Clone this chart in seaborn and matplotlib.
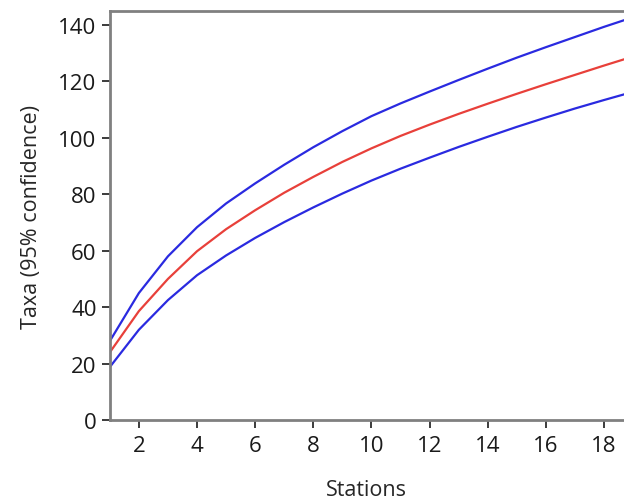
import numpy as np
import pandas as pd
import matplotlib
matplotlib.use("Agg")
import matplotlib.pyplot as plt
import seaborn as sns

# rarefaction curve: stations vs expected taxa with 95% bounds
stations = list(range(1, 20))
taxa_upper = [28, 45, 58, 68.3, 76.7, 83.8, 90.4, 96.6, 102.3, 107.6, 112.1, 116.3,
              120.4, 124.4, 128.3, 132.0, 135.6, 139.2, 142.6]
taxa_mean = [24, 38.6, 50, 59.8, 67.6, 74.3, 80.5, 86.1, 91.4, 96.2, 100.6, 104.6,
             108.4, 112.0, 115.5, 118.9, 122.2, 125.5, 128.7]
taxa_lower = [18.8, 32, 42.5, 51.3, 58.3, 64.5, 70.1, 75.3, 80.2, 84.8, 89, 92.9,
              96.7, 100.3, 103.8, 107.1, 110.3, 113.3, 116.2]

df = pd.DataFrame({"Stations": stations, "upper": taxa_upper,
                   "mean": taxa_mean, "lower": taxa_lower})

sns.set_style("white")
plt.rcParams['font.family'] = ['Open Sans', 'DejaVu Sans']

fig = plt.figure(figsize=(6.24, 5.02), dpi=100)
ax = fig.add_axes([0.176, 0.161, 0.824, 0.815])

sns.lineplot(data=df, x="Stations", y="upper", ax=ax, color="#2a2ae0", linewidth=1.6)
sns.lineplot(data=df, x="Stations", y="mean", ax=ax, color="#e8403a", linewidth=1.6)
sns.lineplot(data=df, x="Stations", y="lower", ax=ax, color="#2a2ae0", linewidth=1.6)

ax.set_xlim(1, 18.69)
ax.set_ylim(0, 144.8)
ax.set_xticks(range(2, 19, 2))
ax.set_yticks(range(0, 141, 20))

ax.set_xlabel("Stations", fontsize=15.5, labelpad=16)
ax.set_ylabel("Taxa (95% confidence)", fontsize=15.5, labelpad=12)
ax.tick_params(axis="both", labelsize=16, colors="#1a1a1a", direction="out",
               bottom=True, left=True, length=6, width=1.2)
ax.tick_params(axis="x", pad=5)

for side in ["left", "bottom", "top"]:
    ax.spines[side].set_color("#808080")
    ax.spines[side].set_linewidth(2)
ax.spines["right"].set_visible(False)

fig.savefig("out.png", dpi=100)
